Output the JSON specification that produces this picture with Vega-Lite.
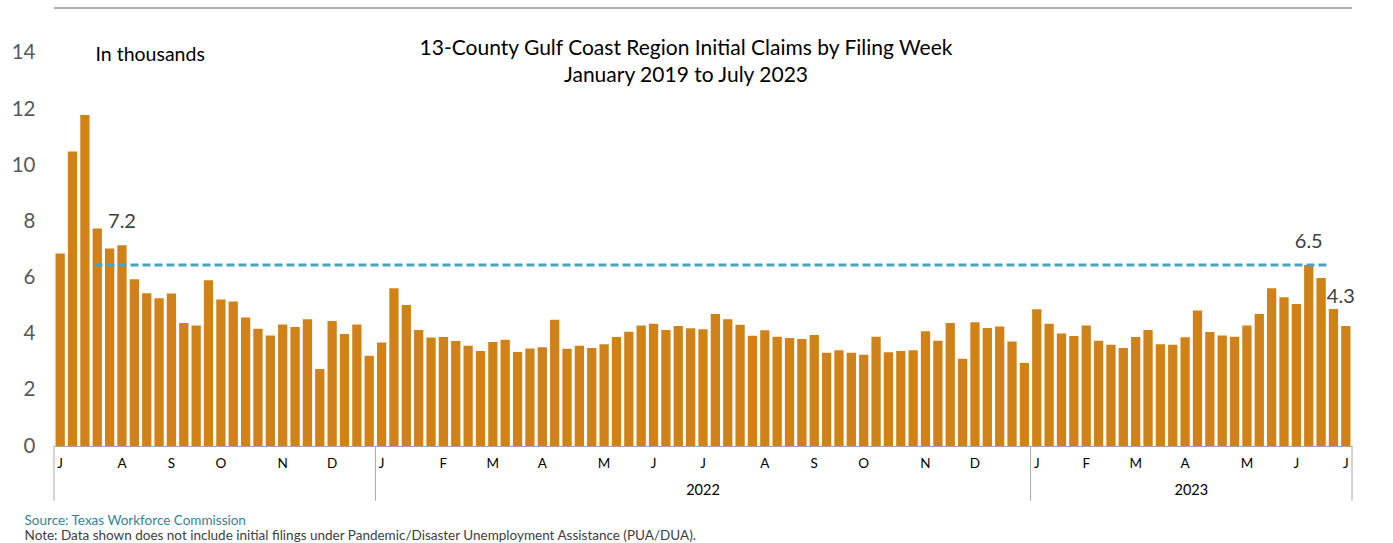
{
  "$schema": "https://vega.github.io/schema/vega-lite/v6.json",
  "width": 1298,
  "height": 438,
  "autosize": {"type": "none"},
  "padding": {"left": 54, "top": 8, "right": 41, "bottom": 97},
  "background": "white",
  "config": {"view": {"stroke": null}, "font": "Lato", "text": {"font": "Lato"}},
  "title": {
    "text": ["13-County Gulf Coast Region Initial Claims by Filing Week", "January 2019 to July 2023"],
    "anchor": "middle",
    "frame": "group",
    "font": "Lato",
    "fontSize": 21,
    "fontWeight": "normal",
    "color": "#000000",
    "lineHeight": 27,
    "offset": -78,
    "dx": -17
  },
  "datasets": {
    "claims": [
      {"week": "2021-07-03", "claims": 6.86},
      {"week": "2021-07-10", "claims": 10.49},
      {"week": "2021-07-17", "claims": 11.79},
      {"week": "2021-07-24", "claims": 7.75},
      {"week": "2021-07-31", "claims": 7.03},
      {"week": "2021-08-07", "claims": 7.15},
      {"week": "2021-08-14", "claims": 5.94},
      {"week": "2021-08-21", "claims": 5.44},
      {"week": "2021-08-28", "claims": 5.26},
      {"week": "2021-09-04", "claims": 5.43},
      {"week": "2021-09-11", "claims": 4.38},
      {"week": "2021-09-18", "claims": 4.29},
      {"week": "2021-09-25", "claims": 5.90},
      {"week": "2021-10-02", "claims": 5.22},
      {"week": "2021-10-09", "claims": 5.15},
      {"week": "2021-10-16", "claims": 4.58},
      {"week": "2021-10-23", "claims": 4.18},
      {"week": "2021-10-30", "claims": 3.94},
      {"week": "2021-11-06", "claims": 4.33},
      {"week": "2021-11-13", "claims": 4.24},
      {"week": "2021-11-20", "claims": 4.51},
      {"week": "2021-11-27", "claims": 2.74},
      {"week": "2021-12-04", "claims": 4.45},
      {"week": "2021-12-11", "claims": 3.99},
      {"week": "2021-12-18", "claims": 4.33},
      {"week": "2021-12-25", "claims": 3.21},
      {"week": "2022-01-01", "claims": 3.69},
      {"week": "2022-01-08", "claims": 5.62},
      {"week": "2022-01-15", "claims": 5.02},
      {"week": "2022-01-22", "claims": 4.13},
      {"week": "2022-01-29", "claims": 3.86},
      {"week": "2022-02-05", "claims": 3.88},
      {"week": "2022-02-12", "claims": 3.74},
      {"week": "2022-02-19", "claims": 3.57},
      {"week": "2022-02-26", "claims": 3.38},
      {"week": "2022-03-05", "claims": 3.70},
      {"week": "2022-03-12", "claims": 3.78},
      {"week": "2022-03-19", "claims": 3.35},
      {"week": "2022-03-26", "claims": 3.47},
      {"week": "2022-04-02", "claims": 3.52},
      {"week": "2022-04-09", "claims": 4.50},
      {"week": "2022-04-16", "claims": 3.46},
      {"week": "2022-04-23", "claims": 3.57},
      {"week": "2022-04-30", "claims": 3.49},
      {"week": "2022-05-07", "claims": 3.62},
      {"week": "2022-05-14", "claims": 3.88},
      {"week": "2022-05-21", "claims": 4.07},
      {"week": "2022-05-28", "claims": 4.29},
      {"week": "2022-06-04", "claims": 4.35},
      {"week": "2022-06-11", "claims": 4.13},
      {"week": "2022-06-18", "claims": 4.27},
      {"week": "2022-06-25", "claims": 4.19},
      {"week": "2022-07-02", "claims": 4.16},
      {"week": "2022-07-09", "claims": 4.70},
      {"week": "2022-07-16", "claims": 4.51},
      {"week": "2022-07-23", "claims": 4.32},
      {"week": "2022-07-30", "claims": 3.93},
      {"week": "2022-08-06", "claims": 4.12},
      {"week": "2022-08-13", "claims": 3.89},
      {"week": "2022-08-20", "claims": 3.85},
      {"week": "2022-08-27", "claims": 3.81},
      {"week": "2022-09-03", "claims": 3.95},
      {"week": "2022-09-10", "claims": 3.32},
      {"week": "2022-09-17", "claims": 3.41},
      {"week": "2022-09-24", "claims": 3.32},
      {"week": "2022-10-01", "claims": 3.25},
      {"week": "2022-10-08", "claims": 3.89},
      {"week": "2022-10-15", "claims": 3.34},
      {"week": "2022-10-22", "claims": 3.38},
      {"week": "2022-10-29", "claims": 3.41},
      {"week": "2022-11-05", "claims": 4.09},
      {"week": "2022-11-12", "claims": 3.75},
      {"week": "2022-11-19", "claims": 4.38},
      {"week": "2022-11-26", "claims": 3.11},
      {"week": "2022-12-03", "claims": 4.41},
      {"week": "2022-12-10", "claims": 4.20},
      {"week": "2022-12-17", "claims": 4.26},
      {"week": "2022-12-24", "claims": 3.72},
      {"week": "2022-12-31", "claims": 2.96},
      {"week": "2023-01-07", "claims": 4.87},
      {"week": "2023-01-14", "claims": 4.35},
      {"week": "2023-01-21", "claims": 4.01},
      {"week": "2023-01-28", "claims": 3.92},
      {"week": "2023-02-04", "claims": 4.29},
      {"week": "2023-02-11", "claims": 3.75},
      {"week": "2023-02-18", "claims": 3.61},
      {"week": "2023-02-25", "claims": 3.49},
      {"week": "2023-03-04", "claims": 3.88},
      {"week": "2023-03-11", "claims": 4.13},
      {"week": "2023-03-18", "claims": 3.62},
      {"week": "2023-03-25", "claims": 3.61},
      {"week": "2023-04-01", "claims": 3.87},
      {"week": "2023-04-08", "claims": 4.83},
      {"week": "2023-04-15", "claims": 4.06},
      {"week": "2023-04-22", "claims": 3.94},
      {"week": "2023-04-29", "claims": 3.89},
      {"week": "2023-05-06", "claims": 4.29},
      {"week": "2023-05-13", "claims": 4.70},
      {"week": "2023-05-20", "claims": 5.62},
      {"week": "2023-05-27", "claims": 5.30},
      {"week": "2023-06-03", "claims": 5.06},
      {"week": "2023-06-10", "claims": 6.45},
      {"week": "2023-06-17", "claims": 5.98},
      {"week": "2023-06-24", "claims": 4.88},
      {"week": "2023-07-01", "claims": 4.27}
    ],
    "yearStarts": [
      {"week": "2021-07-03"},
      {"week": "2022-01-01"},
      {"week": "2023-01-07"}
    ],
    "yearEnd": [{"week": "2023-07-01"}],
    "year2022": [{"week": "2022-07-02", "year": "2022"}],
    "year2023": [{"week": "2023-04-01", "year": "2023"}],
    "reference": [{"start": "2021-07-24", "end": "2023-06-17", "level": 6.45}],
    "peaks": [
      {"week": "2021-08-07", "claims": 7.15, "label": "7.2"},
      {"week": "2023-06-10", "claims": 6.45, "label": "6.5"}
    ],
    "latest": [{"week": "2023-07-01", "claims": 4.27, "label": "4.3"}],
    "source": [{"week": "2021-07-03", "text": "Source: Texas Workforce Commission"}],
    "note": [{"week": "2021-07-03", "text": "Note: Data shown does not include initial filings under Pandemic/Disaster Unemployment Assistance (PUA/DUA)."}]
  },
  "layer": [
    {
      "data": {"name": "claims"},
      "mark": {"type": "rule", "color": "#B0B0B0", "strokeWidth": 1},
      "encoding": {"y": {"datum": 15.6, "type": "quantitative"}}
    },
    {
      "data": {"name": "claims"},
      "mark": {"type": "bar", "color": "#D08219"},
      "encoding": {
        "x": {
          "field": "week",
          "type": "ordinal",
          "scale": {"paddingInner": 0.25, "paddingOuter": 0.125},
          "axis": {
            "title": null,
            "labelExpr": "utcdate(toDate(datum.value)) <= 7 ? ['J','F','M','A','M','J','J','A','S','O','N','D'][utcmonth(toDate(datum.value))] : ''",
            "labelAngle": 0,
            "labelFontSize": 13.5,
            "labelColor": "#000000",
            "labelPadding": 10,
            "labelOverlap": false,
            "labelBound": false,
            "ticks": false,
            "domainColor": "#A6A6A6",
            "domainWidth": 1,
            "grid": false
          }
        },
        "y": {
          "field": "claims",
          "type": "quantitative",
          "scale": {"domain": [0, 15.6], "nice": false},
          "axis": {
            "values": [0, 2, 4, 6, 8, 10, 12, 14],
            "title": "In thousands",
            "titleAngle": 0,
            "titleAlign": "left",
            "titleBaseline": "middle",
            "titleX": 41,
            "titleY": 46,
            "titleFontSize": 19.5,
            "titleFontWeight": "normal",
            "titleColor": "#000000",
            "labelFontSize": 20.5,
            "labelColor": "#595959",
            "labelPadding": 19,
            "domain": false,
            "ticks": false,
            "grid": false
          }
        }
      }
    },
    {
      "data": {"name": "yearStarts"},
      "mark": {"type": "rule", "color": "#A6A6A6", "strokeWidth": 1},
      "encoding": {
        "x": {"field": "week", "type": "ordinal", "bandPosition": -0.167},
        "y": {"datum": 0, "type": "quantitative"},
        "y2": {"datum": -1.95}
      }
    },
    {
      "data": {"name": "yearEnd"},
      "mark": {"type": "rule", "color": "#A6A6A6", "strokeWidth": 1},
      "encoding": {
        "x": {"field": "week", "type": "ordinal", "bandPosition": 1.167},
        "y": {"datum": 0, "type": "quantitative"},
        "y2": {"datum": -1.95}
      }
    },
    {
      "data": {"name": "year2022"},
      "mark": {"type": "text", "fontSize": 14.5, "color": "#000000", "baseline": "middle", "align": "center"},
      "encoding": {
        "x": {"field": "week", "type": "ordinal"},
        "y": {"datum": -1.6, "type": "quantitative"},
        "text": {"field": "year"}
      }
    },
    {
      "data": {"name": "year2023"},
      "mark": {"type": "text", "fontSize": 14.5, "color": "#000000", "baseline": "middle", "align": "center"},
      "encoding": {
        "x": {"field": "week", "type": "ordinal", "bandPosition": 1.167},
        "y": {"datum": -1.6, "type": "quantitative"},
        "text": {"field": "year"}
      }
    },
    {
      "data": {"name": "reference"},
      "mark": {"type": "rule", "color": "#46A3C1", "strokeWidth": 3, "strokeDash": [8, 4]},
      "encoding": {
        "x": {"field": "start", "type": "ordinal", "bandPosition": 0.2},
        "x2": {"field": "end", "bandPosition": 1.25},
        "y": {"field": "level", "type": "quantitative"}
      }
    },
    {
      "data": {"name": "peaks"},
      "mark": {"type": "text", "fontSize": 20, "color": "#404040", "baseline": "bottom", "align": "center", "dy": -13},
      "encoding": {
        "x": {"field": "week", "type": "ordinal"},
        "y": {"field": "claims", "type": "quantitative"},
        "text": {"field": "label"}
      }
    },
    {
      "data": {"name": "latest"},
      "mark": {"type": "text", "fontSize": 20, "color": "#404040", "baseline": "bottom", "align": "center", "dx": -5, "dy": -19},
      "encoding": {
        "x": {"field": "week", "type": "ordinal"},
        "y": {"field": "claims", "type": "quantitative"},
        "text": {"field": "label"}
      }
    },
    {
      "data": {"name": "source"},
      "mark": {"type": "text", "fontSize": 13.5, "color": "#31849B", "baseline": "middle", "align": "left", "dx": -31},
      "encoding": {
        "x": {"field": "week", "type": "ordinal", "bandPosition": 0},
        "y": {"datum": -2.66, "type": "quantitative"},
        "text": {"field": "text"}
      }
    },
    {
      "data": {"name": "note"},
      "mark": {"type": "text", "fontSize": 13.5, "color": "#404040", "baseline": "middle", "align": "left", "dx": -31},
      "encoding": {
        "x": {"field": "week", "type": "ordinal", "bandPosition": 0},
        "y": {"datum": -3.2, "type": "quantitative"},
        "text": {"field": "text"}
      }
    }
  ]
}
